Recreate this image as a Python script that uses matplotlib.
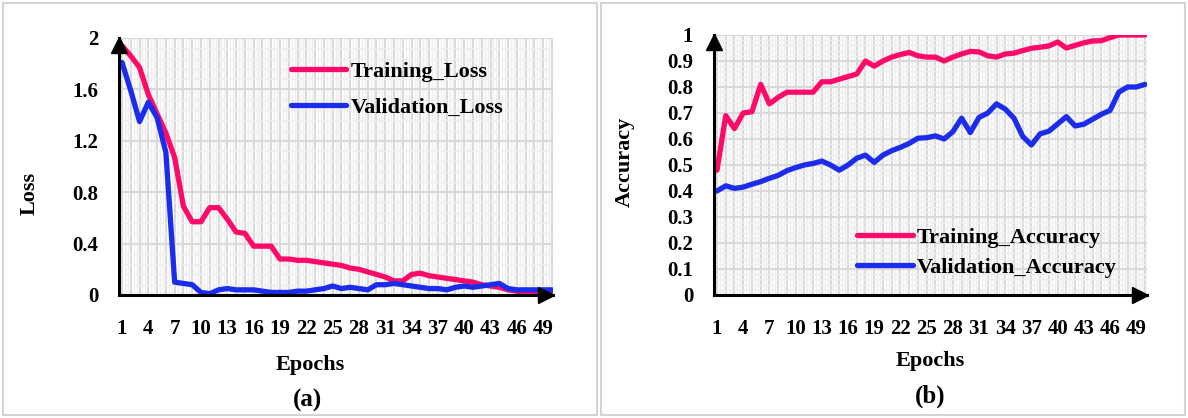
import numpy as np
import matplotlib
matplotlib.use('Agg')
from matplotlib import pyplot as plt
from matplotlib import transforms
from matplotlib.patches import Rectangle

W, H = 1188, 418

epochs = list(range(1, 51))
xtick_labels = [str(e) if (e - 1) % 3 == 0 else '' for e in epochs]

train_loss = [1.94, 1.86, 1.77, 1.56, 1.41, 1.26, 1.07, 0.69, 0.57, 0.57,
              0.68, 0.68, 0.59, 0.49, 0.48, 0.38, 0.38, 0.38, 0.28, 0.28,
              0.27, 0.27, 0.26, 0.25, 0.24, 0.23, 0.21, 0.20, 0.18, 0.16,
              0.14, 0.11, 0.11, 0.16, 0.17, 0.15, 0.14, 0.13, 0.12, 0.11,
              0.10, 0.08, 0.07, 0.06, 0.04, 0.03, 0.01, 0.01, 0.01, 0.01]
val_loss = [1.81, 1.59, 1.35, 1.50, 1.38, 1.11, 0.10, 0.09, 0.08, 0.02,
            0.01, 0.04, 0.05, 0.04, 0.04, 0.04, 0.03, 0.02, 0.02, 0.02,
            0.03, 0.03, 0.04, 0.05, 0.07, 0.05, 0.06, 0.05, 0.04, 0.08,
            0.08, 0.09, 0.08, 0.07, 0.06, 0.05, 0.05, 0.04, 0.06, 0.07,
            0.06, 0.07, 0.08, 0.09, 0.05, 0.04, 0.04, 0.04, 0.04, 0.04]

train_acc = [0.48, 0.69, 0.64, 0.70, 0.705, 0.81, 0.735, 0.76, 0.78, 0.78,
             0.78, 0.78, 0.82, 0.82, 0.83, 0.84, 0.85, 0.90, 0.88, 0.90,
             0.915, 0.925, 0.933, 0.92, 0.915, 0.915, 0.90, 0.915, 0.927, 0.937,
             0.935, 0.92, 0.915, 0.927, 0.93, 0.94, 0.949, 0.953, 0.958, 0.973,
             0.95, 0.96, 0.97, 0.977, 0.978, 0.99, 1.0, 1.0, 1.0, 1.0]
val_acc = [0.40, 0.42, 0.41, 0.415, 0.426, 0.436, 0.449, 0.46, 0.478, 0.49,
           0.50, 0.506, 0.515, 0.50, 0.48, 0.50, 0.526, 0.538, 0.51, 0.538,
           0.555, 0.568, 0.583, 0.603, 0.605, 0.612, 0.60, 0.628, 0.68, 0.625,
           0.683, 0.70, 0.735, 0.715, 0.68, 0.61, 0.577, 0.62, 0.63, 0.658,
           0.686, 0.65, 0.657, 0.676, 0.695, 0.71, 0.78, 0.80, 0.80, 0.81]

PINK = '#ff0a68'
BLUE = '#1c2ced'
FONT = 'Liberation Serif'

plt.rcParams['font.family'] = FONT
plt.rcParams['font.weight'] = 'bold'

fig = plt.figure(figsize=(W / 100, H / 100), dpi=100)


def box(x0, y0, x1, y1):
    # pixel box (top-left origin) -> figure fraction rect
    return [x0 / W, 1 - y1 / H, (x1 - x0) / W, (y1 - y0) / H]


def px(x, y):
    return x / W, 1 - y / H


# panel frames
for x0, x1 in [(3, 597), (601, 1185)]:
    fig.add_artist(Rectangle((x0 / W, 3 / H), (x1 - x0) / W, (H - 6) / H,
                             transform=fig.transFigure, fill=False,
                             edgecolor='#d4d4d4', lw=1.5))


def setup(ax, ymax, ymajor, yminor, yfmt):
    ax.set_axisbelow(True)
    ax.set_xticks(epochs)
    ax.set_xticklabels(xtick_labels)
    ax.set_xticks(np.arange(1, 50.01, 1 / 3), minor=True)
    yt = np.arange(0, ymax + 1e-9, ymajor)
    ax.set_yticks(yt)
    ax.set_yticklabels([yfmt(v) for v in yt])
    ax.set_yticks(np.arange(0, ymax + 1e-9, yminor), minor=True)
    ax.set_ylim(0, ymax)
    ax.grid(which='major', color='#d9d9d9', lw=1.5)
    ax.grid(which='minor', color='#eeeeee', lw=1.0)
    ax.tick_params(which='both', length=0)
    ax.tick_params(axis='y', pad=15, labelsize=15)
    ax.tick_params(axis='x', pad=17, labelsize=15)
    for s in ['top', 'right']:
        ax.spines[s].set_visible(False)
    for s in ['left', 'bottom']:
        ax.spines[s].set_linewidth(2.2)
        ax.spines[s].set_color('black')
    up = transforms.offset_copy(ax.transAxes, fig=fig, y=-5, units='points')
    ax.plot([0], [1], marker='^', ms=11, color='black', transform=up, clip_on=False)
    rt = transforms.offset_copy(ax.transAxes, fig=fig, x=-5, units='points')
    ax.plot([1], [0], marker='>', ms=11, color='black', transform=rt, clip_on=False)


# (a) loss
ax1 = fig.add_axes(box(119, 38, 553, 295))
ax1.plot(epochs, train_loss, color=PINK, lw=3.8, label='Training_Loss', solid_capstyle='round')
ax1.plot(epochs, val_loss, color=BLUE, lw=3.8, label='Validation_Loss', solid_capstyle='round')
ax1.set_xlim(1 - 3 / 8.76, 50 + 1 / 8.76)
setup(ax1, 2, 0.4, 0.08, lambda v: '0' if v == 0 else ('2' if abs(v - 2) < 1e-9 else f'{v:.1f}'))
ax1.legend(loc='center left', bbox_to_anchor=(0.37, 0.80), frameon=False,
           prop={'family': FONT, 'weight': 'bold', 'size': 16},
           handlelength=2.5, handletextpad=0.2, labelspacing=0.68, borderpad=0)

# (b) accuracy
ax2 = fig.add_axes(box(714, 35, 1147, 295))
ax2.plot(epochs, train_acc, color=PINK, lw=3.8, label='Training_Accuracy', solid_capstyle='round')
ax2.plot(epochs, val_acc, color=BLUE, lw=3.8, label='Validation_Accuracy', solid_capstyle='round')
ax2.set_xlim(1 - 3 / 8.735, 50 + 2 / 8.735)
setup(ax2, 1, 0.1, 0.02, lambda v: '0' if v == 0 else ('1' if abs(v - 1) < 1e-9 else f'{v:.1f}'))
ax2.legend(loc='center left', bbox_to_anchor=(0.305, 0.163), frameon=False,
           prop={'family': FONT, 'weight': 'bold', 'size': 16},
           handlelength=2.5, handletextpad=0.2, labelspacing=0.45, borderpad=0)

# axis titles and panel captions
fig.text(*px(30, 193), 'Loss', rotation=90, ha='center', va='center', fontsize=16)
fig.text(*px(625, 162), 'Accuracy', rotation=90, ha='center', va='center', fontsize=16)
fig.text(*px(310, 365), 'Epochs', ha='center', va='center', fontsize=16)
fig.text(*px(930, 361), 'Epochs', ha='center', va='center', fontsize=16)
fig.text(*px(308, 400), '(a)', ha='center', va='center', fontsize=18)
fig.text(*px(930, 396), '(b)', ha='center', va='center', fontsize=18)

fig.savefig('out.png', dpi=100)
